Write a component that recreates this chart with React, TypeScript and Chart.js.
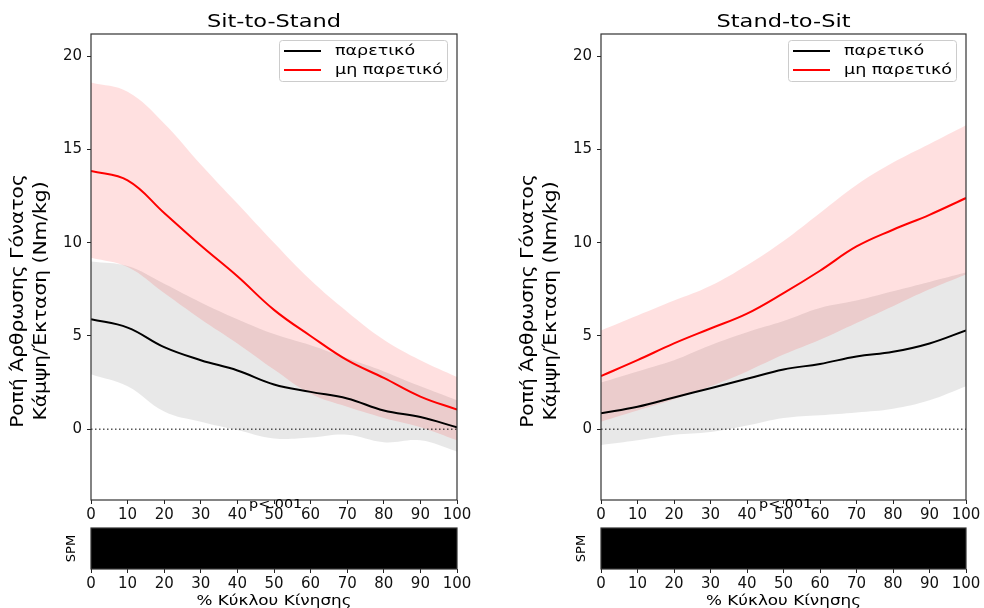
import React, { useEffect, useRef } from "react";
import { Chart, registerables } from "chart.js";

Chart.register(...registerables);

const FONT = '"DejaVu Sans", sans-serif';

// ---------- data ----------
const cyclePct = [0, 10, 20, 30, 40, 50, 60, 70, 80, 90, 100];
const xTickValues = [0, 10, 20, 30, 40, 50, 60, 70, 80, 90, 100];
const yTickValues = [0, 5, 10, 15, 20];
const yMin = -3.8;
const yMax = 21.2;
const panelTitles = ["Sit-to-Stand", "Stand-to-Sit"];
const seriesLabels = ["παρετικό", "μη παρετικό"];
const yAxisLabel = ["Ροπή Άρθρωσης Γόνατος", "Κάμψη/Έκταση (Nm/kg)"];
const xAxisLabel = "% Κύκλου Κίνησης";
const spmAxisLabel = "SPM";
const spmPValue = "p<.001";
const spmClusterStart = 0;
const spmClusterEnd = 100;

// Sit-to-Stand
const s2sPareticMean = [5.9, 5.45, 4.4, 3.7, 3.15, 2.4, 2.0, 1.65, 1.0, 0.65, 0.1];
const s2sPareticUpper = [9.0, 8.75, 7.8, 6.8, 5.9, 5.1, 4.5, 3.8, 3.1, 2.3, 1.55];
const s2sPareticLower = [2.95, 2.3, 0.95, 0.4, -0.05, -0.5, -0.45, -0.3, -0.7, -0.6, -1.2];
const s2sNonPareticMean = [13.85, 13.35, 11.6, 9.85, 8.2, 6.4, 5.0, 3.7, 2.75, 1.75, 1.05];
const s2sNonPareticUpper = [18.6, 18.1, 16.4, 14.2, 12.1, 10.0, 8.0, 6.3, 4.8, 3.7, 2.8];
const s2sNonPareticLower = [9.2, 8.7, 7.3, 5.9, 4.6, 3.2, 1.9, 1.2, 0.6, 0.1, -0.6];

// Stand-to-Sit
const st2sPareticMean = [0.85, 1.2, 1.7, 2.2, 2.7, 3.2, 3.5, 3.9, 4.15, 4.6, 5.3];
const st2sPareticUpper = [2.5, 3.1, 3.7, 4.5, 5.2, 5.8, 6.5, 6.9, 7.4, 7.9, 8.4];
const st2sPareticLower = [-0.85, -0.6, -0.3, -0.15, 0.2, 0.6, 0.75, 0.9, 1.1, 1.55, 2.3];
const st2sNonPareticMean = [2.85, 3.7, 4.6, 5.4, 6.2, 7.3, 8.5, 9.8, 10.7, 11.5, 12.4];
const st2sNonPareticUpper = [5.3, 6.1, 6.9, 7.7, 8.8, 10.1, 11.6, 13.1, 14.3, 15.3, 16.3];
const st2sNonPareticLower = [0.4, 1.0, 1.6, 2.3, 3.1, 4.0, 4.8, 5.7, 6.6, 7.5, 8.3];

const panelData = [
  {
    pm: s2sPareticMean, pu: s2sPareticUpper, pl: s2sPareticLower,
    nm: s2sNonPareticMean, nu: s2sNonPareticUpper, nl: s2sNonPareticLower,
  },
  {
    pm: st2sPareticMean, pu: st2sPareticUpper, pl: st2sPareticLower,
    nm: st2sNonPareticMean, nu: st2sNonPareticUpper, nl: st2sNonPareticLower,
  },
];

// ---------- geometry ----------
const panelGeom = [
  { left: 0, width: 490, yAxisWidth: 91, rightPad: 33 },
  { left: 490, width: 494, yAxisWidth: 111, rightPad: 18 },
];
const MAIN_H = 530;
const SPM_TOP = 510;
const SPM_H = 98;

const pts = (ys: number[]) => ys.map((y, i) => ({ x: cyclePct[i], y }));

function drawText(
  ctx: CanvasRenderingContext2D, text: string, x: number, y: number, size: number,
  sx: number, align: CanvasTextAlign, rot = 0, baseline: CanvasTextBaseline = "alphabetic"
) {
  ctx.save();
  ctx.translate(x, y);
  if (rot) ctx.rotate(rot);
  ctx.scale(sx, 1);
  ctx.font = `${size}px ${FONT}`;
  ctx.textAlign = align;
  ctx.textBaseline = baseline;
  ctx.fillStyle = "#000";
  ctx.fillText(text, 0, 0);
  ctx.restore();
}

const tickFont = { family: FONT, size: 15 };

function xScale(height: number) {
  return {
    type: "linear",
    min: 0,
    max: 100,
    afterBuildTicks: (s: any) => { s.ticks = xTickValues.map((v) => ({ value: v })); },
    afterFit: (s: any) => { s.height = height; },
    ticks: { font: tickFont, color: "#111", padding: 2, maxRotation: 0, autoSkip: false },
    grid: { drawOnChartArea: false, drawTicks: true, tickLength: 4, tickColor: "#222" },
    border: { display: false },
  };
}

function mainConfig(pi: number): any {
  const d = panelData[pi];
  const g = panelGeom[pi];
  const line = { pointRadius: 0, tension: 0.4 };
  const decor = {
    id: "mainDecor" + pi,
    afterDraw(chart: any) {
      const ctx: CanvasRenderingContext2D = chart.ctx;
      const ca = chart.chartArea;
      ctx.save();
      ctx.strokeStyle = "#333";
      ctx.lineWidth = 1.2;
      ctx.strokeRect(ca.left, ca.top, ca.right - ca.left, ca.bottom - ca.top);
      ctx.restore();
      const cx = (ca.left + ca.right) / 2;
      drawText(ctx, panelTitles[pi], cx, 27, 18, 1.25, "center");
      // legend
      const bw = 168, bh = 41;
      const bx = ca.right - 10 - bw, by = ca.top + 6;
      ctx.save();
      ctx.fillStyle = "rgba(255,255,255,0.8)";
      ctx.strokeStyle = "#cccccc";
      ctx.lineWidth = 1;
      ctx.beginPath();
      (ctx as any).roundRect(bx + 0.5, by + 0.5, bw, bh, 3);
      ctx.fill();
      ctx.stroke();
      const rows = [by + 11, by + 30];
      const cols = ["#000000", "#ff0000"];
      rows.forEach((ry, i) => {
        ctx.strokeStyle = cols[i];
        ctx.lineWidth = 2;
        ctx.beginPath();
        ctx.moveTo(bx + 5, ry);
        ctx.lineTo(bx + 42, ry);
        ctx.stroke();
        drawText(ctx, seriesLabels[i], bx + 56, ry + 4, 14, 1.25, "left");
      });
      ctx.restore();
      // y label
      drawText(ctx, yAxisLabel[0], ca.left - 72, 301, 17, 1.19, "center", -Math.PI / 2, "middle");
      drawText(ctx, yAxisLabel[1], ca.left - 49, 301, 17, 1.19, "center", -Math.PI / 2, "middle");
      // p-value
      drawText(ctx, spmPValue, ca.left + 158, 508, 12, 1.2, "left");
    },
  };
  return {
    type: "line",
    data: {
      datasets: [
        { label: seriesLabels[1], data: pts(d.nm), borderColor: "#ff0000", borderWidth: 2, fill: false, ...line },
        { label: seriesLabels[0], data: pts(d.pm), borderColor: "#000000", borderWidth: 2, fill: false, ...line },
        {
          label: "zero", data: [{ x: 0, y: 0 }, { x: 100, y: 0 }], borderColor: "#000",
          borderWidth: 1, borderDash: [1.5, 2.5], pointRadius: 0, fill: false,
        },
        { label: "nu", data: pts(d.nu), borderWidth: 0, borderColor: "rgba(0,0,0,0)", backgroundColor: "rgba(255,0,0,0.12)", fill: "+1", ...line },
        { label: "nl", data: pts(d.nl), borderWidth: 0, borderColor: "rgba(0,0,0,0)", fill: false, ...line },
        { label: "pu", data: pts(d.pu), borderWidth: 0, borderColor: "rgba(0,0,0,0)", backgroundColor: "rgba(128,128,128,0.18)", fill: "+1", ...line },
        { label: "pl", data: pts(d.pl), borderWidth: 0, borderColor: "rgba(0,0,0,0)", fill: false, ...line },
      ],
    },
    options: {
      responsive: false,
      animation: false,
      devicePixelRatio: 1,
      layout: { padding: { left: 0, top: 34, right: g.rightPad, bottom: 6 } },
      plugins: { legend: { display: false }, title: { display: false }, tooltip: { enabled: false } },
      scales: {
        x: xScale(24),
        y: {
          type: "linear",
          min: yMin,
          max: yMax,
          afterBuildTicks: (s: any) => { s.ticks = yTickValues.map((v) => ({ value: v })); },
          afterFit: (s: any) => { s.width = g.yAxisWidth; },
          ticks: { font: tickFont, color: "#111", padding: 5 },
          grid: { drawOnChartArea: false, drawTicks: true, tickLength: 4, tickColor: "#222" },
          border: { display: false },
        },
      },
    },
    plugins: [decor],
  };
}

function spmConfig(pi: number): any {
  const g = panelGeom[pi];
  const decor = {
    id: "spmDecor" + pi,
    afterDraw(chart: any) {
      const ctx: CanvasRenderingContext2D = chart.ctx;
      const ca = chart.chartArea;
      ctx.save();
      ctx.strokeStyle = "#333";
      ctx.lineWidth = 1.2;
      ctx.strokeRect(ca.left, ca.top, ca.right - ca.left, ca.bottom - ca.top);
      ctx.restore();
      drawText(ctx, spmAxisLabel, ca.left - 19, (ca.top + ca.bottom) / 2, 13, 1, "center", -Math.PI / 2, "middle");
      drawText(ctx, xAxisLabel, (ca.left + ca.right) / 2, 95, 14, 1.2, "center");
    },
  };
  return {
    type: "line",
    data: {
      datasets: [
        {
          label: "SPM",
          data: [{ x: spmClusterStart, y: 1 }, { x: spmClusterEnd, y: 1 }],
          borderWidth: 0,
          pointRadius: 0,
          borderColor: "#000",
          backgroundColor: "#000",
          fill: "start",
        },
      ],
    },
    options: {
      responsive: false,
      animation: false,
      devicePixelRatio: 1,
      layout: { padding: { left: g.yAxisWidth, top: 18, right: g.rightPad, bottom: 14 } },
      plugins: { legend: { display: false }, title: { display: false }, tooltip: { enabled: false } },
      scales: {
        x: xScale(25),
        y: { type: "linear", min: 0, max: 1, display: false },
      },
    },
    plugins: [decor],
  };
}

function ChartCanvas(props: { config: () => any; left: number; top: number; width: number; height: number }) {
  const ref = useRef<HTMLCanvasElement | null>(null);
  useEffect(() => {
    if (!ref.current) return;
    const chart = new Chart(ref.current, props.config());
    return () => chart.destroy();
  }, []);
  return (
    <canvas
      ref={ref}
      width={props.width}
      height={props.height}
      style={{ position: "absolute", left: props.left, top: props.top, width: props.width, height: props.height }}
    />
  );
}

export default function App() {
  return (
    <div style={{ position: "absolute", left: 0, top: 0, width: 984, height: 608, background: "#fff", overflow: "hidden" }}>
      {panelGeom.map((g, pi) => (
        <React.Fragment key={pi}>
          <ChartCanvas config={() => mainConfig(pi)} left={g.left} top={0} width={g.width} height={MAIN_H} />
          <ChartCanvas config={() => spmConfig(pi)} left={g.left} top={SPM_TOP} width={g.width} height={SPM_H} />
        </React.Fragment>
      ))}
    </div>
  );
}
